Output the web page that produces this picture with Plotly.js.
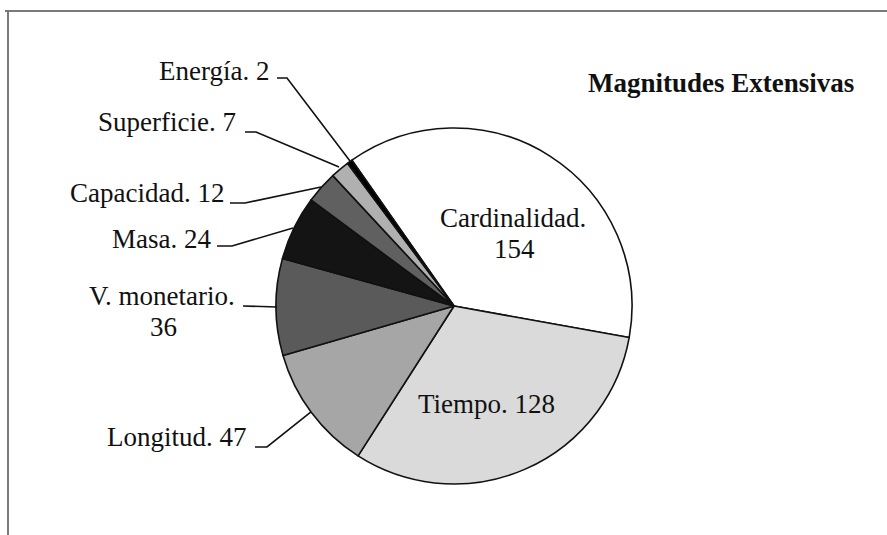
<!DOCTYPE html>
<html>
<head>
<meta charset="utf-8">
<script src="https://cdn.plot.ly/plotly-3.0.1.min.js"></script>
<style>html,body{margin:0;padding:0;background:#fff;}#chart{width:887px;height:535px;}</style>
</head>
<body>
<div id="chart"></div>
<script>
// ---- data ----
const labels = ['Cardinalidad', 'Tiempo', 'Longitud', 'V. monetario', 'Masa', 'Capacidad', 'Superficie', 'Energía'];
const values = [154, 128, 47, 36, 24, 12, 7, 2];
const sliceColors = ['#ffffff', '#dadada', '#a6a6a6', '#5a5a5a', '#141414', '#606060', '#b0b0b0', '#000000'];
const chartTitle = 'Magnitudes Extensivas';

// ---- layout helpers (pixel -> paper) ----
const W = 887, H = 535;
const px = x => x / W;
const py = y => 1 - y / H;

// pie geometry (pixels)
const cx = 454, cy = 306, R = 178;

// label placement: [x, y, xanchor, twoLines]
const labelPos = [
  [513, 218, 'center', true],
  [486, 404, 'center', false],
  [249, 437, 'right', false],
  [162, 296, 'center', true],
  [213, 239, 'right', false],
  [226, 193, 'right', false],
  [238, 122, 'right', false],
  [271, 71, 'right', false]
];
// leader lines (pixel paths)
const leaders = [
  null, null,
  [[255,447],[267,447],[311,412]],
  [[243,306],[277,307]],
  [[217,246],[232,246],[293,228]],
  [[230,203],[245,203],[321,187]],
  [[245,132],[256,132],[339,167]],
  [[277,78],[287,78],[350,161]]
];

const serif = 'Liberation Serif, Times New Roman, serif';
const font = {family: serif, size: 27, color: '#111'};
const annotations = [];
labels.forEach((lab, i) => {
  const [x, y, xa, two] = labelPos[i];
  if (two) {
    annotations.push({xref:'paper', yref:'paper', x: px(x), y: py(y), xanchor: xa, yanchor: 'middle',
      text: lab + '.', showarrow: false, font: font});
    annotations.push({xref:'paper', yref:'paper', x: px(x + 1), y: py(y + 31), xanchor: 'center', yanchor: 'middle',
      text: String(values[i]), showarrow: false, font: font});
  } else {
    annotations.push({xref:'paper', yref:'paper', x: px(x), y: py(y), xanchor: xa, yanchor: 'middle',
      text: lab + '. ' + values[i], showarrow: false, font: font});
  }
});
annotations.push({xref:'paper', yref:'paper', x: px(856), y: py(83), xanchor: 'right', yanchor: 'middle',
  text: '<b>' + chartTitle + '</b>', showarrow: false,
  font: {family: serif, size: 27, color: '#111'}});

const shapes = [];
leaders.forEach(pts => {
  if (!pts) return;
  const d = pts.map((p, k) => (k ? 'L' : 'M') + px(p[0]).toFixed(5) + ',' + py(p[1]).toFixed(5)).join(' ');
  shapes.push({type: 'path', xref: 'paper', yref: 'paper', path: d, line: {color: '#111', width: 1.6}});
});
// frame
shapes.push({type:'line', xref:'paper', yref:'paper', x0: px(5), x1: px(887), y0: py(11), y1: py(11), line:{color:'#7a7a7a', width:2}});
shapes.push({type:'line', xref:'paper', yref:'paper', x0: px(8), x1: px(8), y0: py(11), y1: py(535), line:{color:'#7a7a7a', width:2}});

const trace = {
  type: 'pie',
  labels: labels,
  values: values,
  sort: false,
  direction: 'clockwise',
  rotation: -35,
  textinfo: 'none',
  hoverinfo: 'none',
  showlegend: false,
  marker: {colors: sliceColors, line: {color: '#111', width: 1.6}},
  domain: {x: [px(cx - R), px(cx + R)], y: [py(cy + R), py(cy - R)]}
};

Plotly.newPlot('chart', [trace], {
  width: W, height: H,
  margin: {l: 0, r: 0, t: 0, b: 0},
  paper_bgcolor: '#fff',
  showlegend: false,
  annotations: annotations,
  shapes: shapes
}, {displayModeBar: false, staticPlot: true});
</script>
</body>
</html>
